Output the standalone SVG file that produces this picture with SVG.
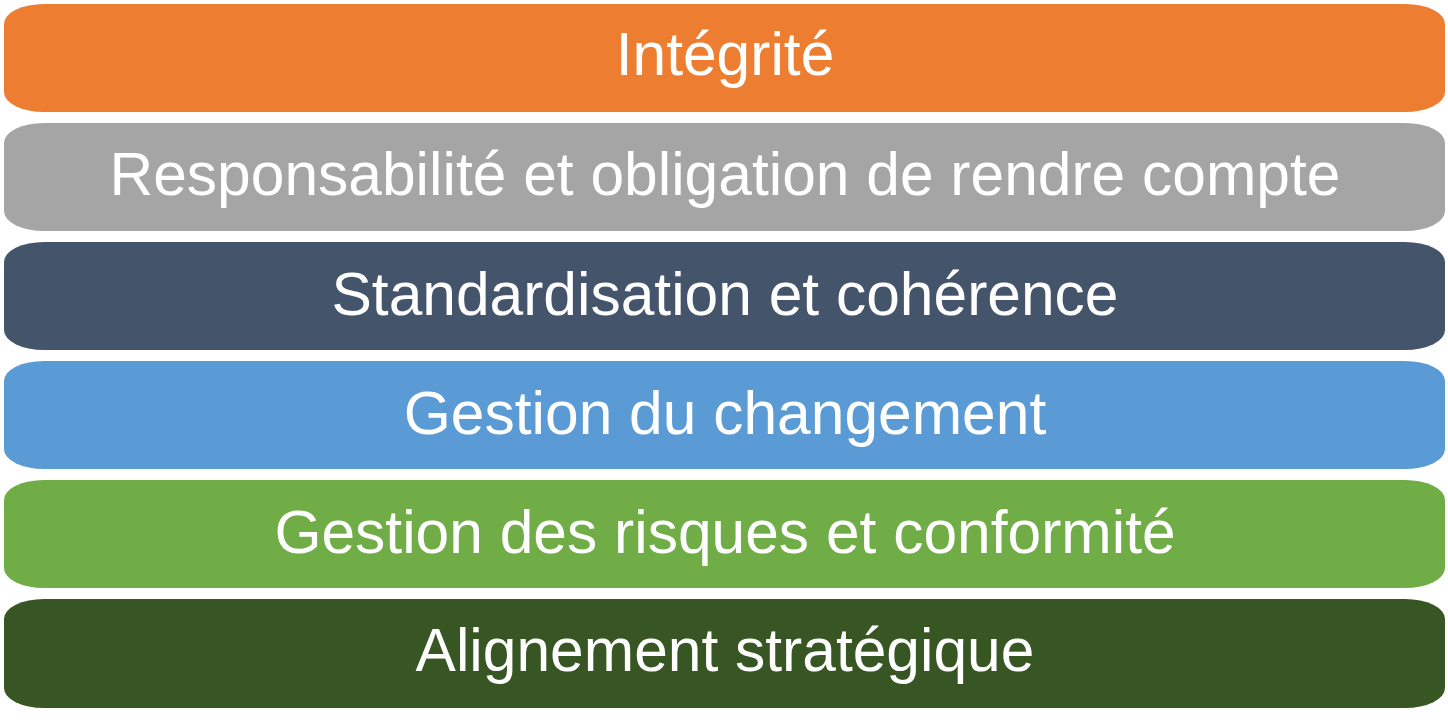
<svg xmlns="http://www.w3.org/2000/svg" width="1448" height="720" viewBox="0 0 1448 720">
<style>
.bar{stroke:none}
.lbl{font-family:"Liberation Sans",Arial,sans-serif;font-size:60.5px;fill:#FFFFFF;text-anchor:middle}
</style>
<rect x="0" y="0" width="1448" height="720" fill="#FFFFFF"/>
<g id="node-integrite">
<rect class="bar" x="4" y="4" width="1441" height="108" rx="40" ry="20" fill="#ED7D31"/>
<text class="lbl" x="725" y="75">Intégrité</text>
</g>
<g id="node-responsabilite">
<rect class="bar" x="4" y="123" width="1441" height="108" rx="40" ry="20" fill="#A5A5A5"/>
<text class="lbl" x="725" y="195">Responsabilité et obligation de rendre compte</text>
</g>
<g id="node-standardisation">
<rect class="bar" x="4" y="242" width="1441" height="108" rx="40" ry="20" fill="#44546A"/>
<text class="lbl" x="725" y="315">Standardisation et cohérence</text>
</g>
<g id="node-changement">
<rect class="bar" x="4" y="361" width="1441" height="108" rx="40" ry="20" fill="#5B9BD5"/>
<text class="lbl" x="725" y="434">Gestion du changement</text>
</g>
<g id="node-risques">
<rect class="bar" x="4" y="480" width="1441" height="108" rx="40" ry="20" fill="#70AD47"/>
<text class="lbl" x="725" y="553">Gestion des risques et conformité</text>
</g>
<g id="node-alignement">
<rect class="bar" x="4" y="599" width="1441" height="109" rx="40" ry="20" fill="#375623"/>
<text class="lbl" x="725" y="671">Alignement stratégique</text>
</g>
<g id="connectors"></g>
</svg>
